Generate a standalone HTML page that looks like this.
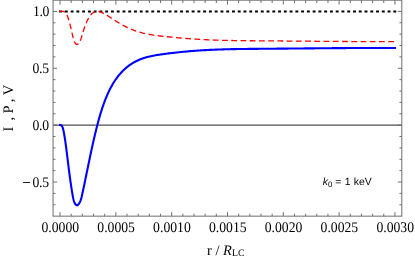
<!DOCTYPE html>
<html><head><meta charset="utf-8"><title>plot</title><style>html,body{margin:0;padding:0;background:#fff;}body{width:415px;height:263px;overflow:hidden;position:relative;font-family:"Liberation Sans",sans-serif;}</style></head><body>
<svg width="415" height="263" viewBox="0 0 415 263" style="position:absolute;left:0;top:0;text-rendering:geometricPrecision;will-change:transform">
<rect width="415" height="263" fill="#fff"/>
<line x1="53.05" y1="125.15" x2="401.8" y2="125.15" stroke="#4e4e4e" stroke-width="1.1"/>
<path d="M60.05 125.02 L61.22 125.27 L61.99 126.12 L62.53 127.21 L62.93 128.35 L63.24 129.52 L63.50 130.71 L63.74 131.90 L63.97 133.10 L64.19 134.29 L64.39 135.47 L64.59 136.66 L64.79 137.85 L64.97 139.04 L65.15 140.23 L65.32 141.42 L65.49 142.60 L65.65 143.79 L65.81 144.98 L65.97 146.17 L66.13 147.36 L66.28 148.55 L66.43 149.74 L66.58 150.93 L66.73 152.13 L66.88 153.32 L67.03 154.52 L67.18 155.71 L67.33 156.91 L67.47 158.10 L67.62 159.30 L67.77 160.50 L67.92 161.69 L68.06 162.89 L68.21 164.09 L68.36 165.29 L68.51 166.49 L68.66 167.69 L68.81 168.88 L68.96 170.08 L69.12 171.28 L69.27 172.48 L69.43 173.67 L69.59 174.87 L69.74 176.07 L69.91 177.26 L70.07 178.46 L70.23 179.65 L70.40 180.84 L70.57 182.04 L70.74 183.23 L70.91 184.42 L71.09 185.61 L71.27 186.80 L71.45 187.99 L71.64 189.17 L71.82 190.36 L72.02 191.54 L72.21 192.73 L72.41 193.91 L72.61 195.09 L72.82 196.26 L73.04 197.44 L73.29 198.62 L73.57 199.79 L73.91 200.97 L74.31 202.14 L74.82 203.29 L75.54 204.36 L76.44 205.17 L77.37 205.31 L78.23 204.66 L78.98 203.65 L79.62 202.57 L80.17 201.47 L80.62 200.34 L81.01 199.20 L81.34 198.04 L81.63 196.88 L81.90 195.70 L82.16 194.53 L82.42 193.35 L82.67 192.17 L82.92 191.00 L83.18 189.82 L83.43 188.64 L83.68 187.46 L83.93 186.29 L84.18 185.11 L84.42 183.93 L84.67 182.75 L84.92 181.57 L85.16 180.39 L85.40 179.21 L85.65 178.03 L85.89 176.85 L86.13 175.67 L86.38 174.49 L86.62 173.32 L86.86 172.14 L87.10 170.96 L87.35 169.78 L87.59 168.60 L87.83 167.42 L88.07 166.24 L88.32 165.06 L88.56 163.88 L88.80 162.70 L89.05 161.52 L89.29 160.34 L89.54 159.16 L89.78 157.98 L90.03 156.80 L90.28 155.62 L90.53 154.45 L90.78 153.27 L91.03 152.09 L91.28 150.91 L91.54 149.74 L91.79 148.56 L92.05 147.38 L92.31 146.21 L92.57 145.03 L92.83 143.86 L93.10 142.68 L93.36 141.51 L93.63 140.33 L93.90 139.16 L94.17 137.99 L94.45 136.81 L94.72 135.64 L95.00 134.47 L95.28 133.30 L95.57 132.13 L95.85 130.96 L96.14 129.79 L96.43 128.62 L96.73 127.46 L97.02 126.29 L97.32 125.12 L97.63 123.96 L97.93 122.79 L98.25 121.63 L98.56 120.47 L98.88 119.30 L99.20 118.14 L99.53 116.99 L99.86 115.83 L100.20 114.67 L100.54 113.52 L100.89 112.37 L101.25 111.22 L101.61 110.07 L101.98 108.92 L102.36 107.78 L102.74 106.64 L103.14 105.50 L103.54 104.36 L103.94 103.23 L104.36 102.10 L104.78 100.97 L105.22 99.85 L105.66 98.73 L106.12 97.61 L106.58 96.50 L107.05 95.38 L107.54 94.28 L108.03 93.18 L108.54 92.08 L109.06 90.99 L109.59 89.91 L110.13 88.83 L110.69 87.76 L111.26 86.70 L111.85 85.64 L112.45 84.60 L113.06 83.56 L113.69 82.54 L114.33 81.52 L114.99 80.52 L115.67 79.53 L116.36 78.54 L117.07 77.58 L117.80 76.62 L118.54 75.68 L119.31 74.75 L120.09 73.84 L120.89 72.94 L121.71 72.06 L122.55 71.19 L123.41 70.35 L124.28 69.52 L125.17 68.71 L126.08 67.91 L127.01 67.14 L127.95 66.39 L128.91 65.66 L129.89 64.96 L130.88 64.27 L131.89 63.61 L132.91 62.98 L133.95 62.37 L135.00 61.78 L136.07 61.23 L137.15 60.70 L138.25 60.20 L139.36 59.72 L140.48 59.27 L141.61 58.84 L142.74 58.44 L143.89 58.06 L145.04 57.70 L146.20 57.36 L147.36 57.04 L148.53 56.74 L149.70 56.45 L150.87 56.19 L152.05 55.94 L153.23 55.70 L154.41 55.47 L155.59 55.26 L156.78 55.06 L157.97 54.87 L159.16 54.69 L160.35 54.51 L161.54 54.34 L162.74 54.18 L163.93 54.02 L165.12 53.87 L166.32 53.71 L167.51 53.56 L168.71 53.41 L169.91 53.27 L171.10 53.12 L172.30 52.98 L173.49 52.84 L174.69 52.71 L175.89 52.57 L177.09 52.44 L178.28 52.31 L179.48 52.18 L180.68 52.06 L181.88 51.94 L183.08 51.82 L184.28 51.70 L185.47 51.59 L186.67 51.48 L187.87 51.37 L189.07 51.27 L190.27 51.16 L191.47 51.07 L192.67 50.97 L193.87 50.88 L195.07 50.78 L196.28 50.70 L197.48 50.61 L198.68 50.53 L199.88 50.45 L201.08 50.37 L202.28 50.30 L203.48 50.23 L204.69 50.16 L205.89 50.09 L207.09 50.03 L208.29 49.97 L209.49 49.91 L210.70 49.85 L211.90 49.80 L213.10 49.74 L214.31 49.69 L215.51 49.64 L216.71 49.60 L217.91 49.55 L219.12 49.51 L220.32 49.47 L221.53 49.43 L222.73 49.39 L223.93 49.36 L225.14 49.32 L226.34 49.29 L227.54 49.26 L228.75 49.23 L229.95 49.20 L231.16 49.17 L232.36 49.15 L233.57 49.13 L234.77 49.10 L235.97 49.08 L237.18 49.06 L238.38 49.04 L239.59 49.02 L240.79 49.00 L242.00 48.99 L243.20 48.97 L244.41 48.96 L245.61 48.94 L246.82 48.93 L248.02 48.92 L249.23 48.90 L250.43 48.89 L251.63 48.88 L252.84 48.87 L254.04 48.86 L255.25 48.85 L256.45 48.84 L257.66 48.83 L258.86 48.82 L260.07 48.81 L261.27 48.80 L262.48 48.79 L263.68 48.78 L264.89 48.77 L266.09 48.76 L267.30 48.75 L268.50 48.75 L269.71 48.74 L270.91 48.73 L272.12 48.72 L273.32 48.71 L274.52 48.70 L275.73 48.68 L276.93 48.67 L278.14 48.66 L279.34 48.65 L280.55 48.64 L281.75 48.63 L282.96 48.62 L284.16 48.61 L285.36 48.60 L286.57 48.59 L287.77 48.58 L288.98 48.57 L290.18 48.56 L291.39 48.54 L292.59 48.53 L293.79 48.52 L295.00 48.51 L296.20 48.50 L297.41 48.49 L298.61 48.48 L299.81 48.46 L301.02 48.45 L302.22 48.44 L303.43 48.43 L304.63 48.42 L305.83 48.41 L307.04 48.40 L308.24 48.39 L309.45 48.37 L310.65 48.36 L311.85 48.35 L313.06 48.34 L314.26 48.33 L315.47 48.32 L316.67 48.31 L317.87 48.30 L319.08 48.29 L320.28 48.28 L321.49 48.27 L322.69 48.26 L323.89 48.25 L325.10 48.23 L326.30 48.22 L327.51 48.21 L328.71 48.20 L329.91 48.19 L331.12 48.18 L332.32 48.17 L333.53 48.17 L334.73 48.16 L335.93 48.15 L337.14 48.14 L338.34 48.13 L339.55 48.12 L340.75 48.11 L341.95 48.10 L343.16 48.09 L344.36 48.09 L345.57 48.08 L346.77 48.07 L347.98 48.06 L349.18 48.05 L350.38 48.05 L351.59 48.04 L352.79 48.03 L354.00 48.03 L355.20 48.02 L356.40 48.01 L357.61 48.01 L358.81 48.00 L360.02 48.00 L361.22 47.99 L362.43 47.99 L363.63 47.98 L364.83 47.98 L366.04 47.97 L367.24 47.97 L368.45 47.96 L369.65 47.96 L370.86 47.96 L372.06 47.95 L373.26 47.95 L374.47 47.95 L375.67 47.95 L376.88 47.94 L378.08 47.94 L379.29 47.94 L380.49 47.94 L381.70 47.94 L382.90 47.94 L384.11 47.94 L385.31 47.94 L386.52 47.94 L387.72 47.94 L388.93 47.94 L390.13 47.94 L391.34 47.94 L392.54 47.95 L393.75 47.95 L394.95 47.95" fill="none" stroke="#0000ff" stroke-width="2.1" stroke-linejoin="round" stroke-linecap="square"/>
<line x1="59.099999999999994" y1="11.400000000000006" x2="396.24000000000007" y2="11.400000000000006" stroke="#000" stroke-width="1.95" stroke-dasharray="2.9 2.863"/>
<path d="M59.15 11.40 L60.05 11.40 L61.22 11.40 L61.99 11.40 L62.53 11.42 L62.93 11.44 L63.24 11.48 L63.50 11.54 L63.74 11.60 L63.97 11.68 L64.19 11.77 L64.39 11.87 L64.59 11.98 L64.79 12.11 L64.97 12.25 L65.15 12.40 L65.32 12.57 L65.49 12.75 L65.65 12.94 L65.81 13.14 L65.97 13.36 L66.13 13.59 L66.28 13.83 L66.43 14.09 L66.58 14.36 L66.73 14.65 L66.88 14.94 L67.03 15.26 L67.18 15.58 L67.33 15.92 L67.47 16.28 L67.62 16.65 L67.77 17.03 L67.92 17.43 L68.06 17.84 L68.21 18.27 L68.36 18.72 L68.51 19.18 L68.66 19.65 L68.81 20.14 L68.96 20.65 L69.12 21.17 L69.27 21.71 L69.43 22.27 L69.59 22.84 L69.74 23.43 L69.91 24.04 L70.07 24.66 L70.23 25.31 L70.40 25.97 L70.57 26.65 L70.74 27.34 L70.91 28.06 L71.09 28.80 L71.27 29.55 L71.45 30.33 L71.64 31.13 L71.82 31.95 L72.02 32.79 L72.21 33.65 L72.41 34.53 L72.61 35.44 L72.82 36.37 L73.04 37.33 L73.29 38.31 L73.57 39.32 L73.91 40.35 L74.31 41.42 L74.82 42.49 L75.54 43.52 L76.44 44.31 L77.37 44.44 L78.23 43.80 L78.98 42.82 L79.62 41.81 L80.17 40.80 L80.62 39.80 L81.01 38.80 L81.34 37.82 L81.63 36.86 L81.90 35.92 L82.16 35.01 L82.42 34.11 L82.67 33.24 L82.92 32.40 L83.18 31.57 L83.43 30.77 L83.68 29.99 L83.93 29.23 L84.18 28.49 L84.42 27.76 L84.67 27.06 L84.92 26.38 L85.16 25.71 L85.40 25.07 L85.65 24.44 L85.89 23.83 L86.13 23.24 L86.38 22.66 L86.62 22.10 L86.86 21.56 L87.10 21.03 L87.35 20.52 L87.59 20.02 L87.83 19.54 L88.07 19.08 L88.32 18.63 L88.56 18.20 L88.80 17.78 L89.05 17.37 L89.29 16.98 L89.54 16.60 L89.78 16.24 L90.03 15.89 L90.28 15.56 L90.53 15.24 L90.78 14.93 L91.03 14.64 L91.28 14.36 L91.54 14.09 L91.79 13.83 L92.05 13.59 L92.31 13.37 L92.57 13.15 L92.83 12.95 L93.10 12.76 L93.36 12.58 L93.63 12.42 L93.90 12.27 L94.17 12.13 L94.45 12.00 L94.72 11.88 L95.00 11.78 L95.28 11.69 L95.57 11.61 L95.85 11.55 L96.14 11.49 L96.43 11.45 L96.73 11.42 L97.02 11.41 L97.32 11.40 L97.63 11.41 L97.93 11.42 L98.25 11.45 L98.56 11.50 L98.88 11.55 L99.20 11.62 L99.53 11.69 L99.86 11.78 L100.20 11.88 L100.54 12.00 L100.89 12.12 L101.25 12.26 L101.61 12.40 L101.98 12.56 L102.36 12.73 L102.74 12.92 L103.14 13.11 L103.54 13.32 L103.94 13.53 L104.36 13.76 L104.78 14.00 L105.22 14.25 L105.66 14.51 L106.12 14.78 L106.58 15.07 L107.05 15.36 L107.54 15.67 L108.03 15.99 L108.54 16.31 L109.06 16.65 L109.59 17.00 L110.13 17.35 L110.69 17.72 L111.26 18.10 L111.85 18.48 L112.45 18.87 L113.06 19.27 L113.69 19.68 L114.33 20.10 L114.99 20.52 L115.67 20.95 L116.36 21.39 L117.07 21.83 L117.80 22.27 L118.54 22.72 L119.31 23.17 L120.09 23.63 L120.89 24.09 L121.71 24.55 L122.55 25.01 L123.41 25.47 L124.28 25.93 L125.17 26.39 L126.08 26.85 L127.01 27.30 L127.95 27.75 L128.91 28.20 L129.89 28.63 L130.88 29.06 L131.89 29.48 L132.91 29.89 L133.95 30.29 L135.00 30.68 L136.07 31.06 L137.15 31.42 L138.25 31.77 L139.36 32.10 L140.48 32.42 L141.61 32.72 L142.74 33.02 L143.89 33.29 L145.04 33.56 L146.20 33.81 L147.36 34.05 L148.53 34.27 L149.70 34.49 L150.87 34.69 L152.05 34.88 L153.23 35.06 L154.41 35.24 L155.59 35.40 L156.78 35.56 L157.97 35.71 L159.16 35.85 L160.35 35.99 L161.54 36.12 L162.74 36.25 L163.93 36.38 L165.12 36.51 L166.32 36.63 L167.51 36.75 L168.71 36.87 L169.91 36.99 L171.10 37.11 L172.30 37.22 L173.49 37.34 L174.69 37.45 L175.89 37.56 L177.09 37.67 L178.28 37.78 L179.48 37.89 L180.68 37.99 L181.88 38.09 L183.08 38.19 L184.28 38.29 L185.47 38.39 L186.67 38.48 L187.87 38.57 L189.07 38.66 L190.27 38.75 L191.47 38.83 L192.67 38.92 L193.87 39.00 L195.07 39.07 L196.28 39.15 L197.48 39.22 L198.68 39.30 L199.88 39.36 L201.08 39.43 L202.28 39.50 L203.48 39.56 L204.69 39.62 L205.89 39.68 L207.09 39.73 L208.29 39.79 L209.49 39.84 L210.70 39.89 L211.90 39.94 L213.10 39.99 L214.31 40.03 L215.51 40.07 L216.71 40.12 L217.91 40.16 L219.12 40.19 L220.32 40.23 L221.53 40.26 L222.73 40.30 L223.93 40.33 L225.14 40.36 L226.34 40.39 L227.54 40.42 L228.75 40.44 L229.95 40.47 L231.16 40.49 L232.36 40.52 L233.57 40.54 L234.77 40.56 L235.97 40.58 L237.18 40.60 L238.38 40.61 L239.59 40.63 L240.79 40.65 L242.00 40.66 L243.20 40.68 L244.41 40.69 L245.61 40.70 L246.82 40.71 L248.02 40.73 L249.23 40.74 L250.43 40.75 L251.63 40.76 L252.84 40.77 L254.04 40.78 L255.25 40.79 L256.45 40.80 L257.66 40.80 L258.86 40.81 L260.07 40.82 L261.27 40.83 L262.48 40.84 L263.68 40.85 L264.89 40.85 L266.09 40.86 L267.30 40.87 L268.50 40.88 L269.71 40.89 L270.91 40.90 L272.12 40.91 L273.32 40.92 L274.52 40.93 L275.73 40.94 L276.93 40.94 L278.14 40.95 L279.34 40.96 L280.55 40.97 L281.75 40.98 L282.96 40.99 L284.16 41.00 L285.36 41.01 L286.57 41.02 L287.77 41.03 L288.98 41.04 L290.18 41.05 L291.39 41.06 L292.59 41.07 L293.79 41.08 L295.00 41.09 L296.20 41.10 L297.41 41.11 L298.61 41.12 L299.81 41.14 L301.02 41.15 L302.22 41.16 L303.43 41.17 L304.63 41.18 L305.83 41.19 L307.04 41.20 L308.24 41.21 L309.45 41.22 L310.65 41.23 L311.85 41.24 L313.06 41.25 L314.26 41.26 L315.47 41.27 L316.67 41.28 L317.87 41.29 L319.08 41.30 L320.28 41.31 L321.49 41.32 L322.69 41.33 L323.89 41.34 L325.10 41.35 L326.30 41.36 L327.51 41.36 L328.71 41.37 L329.91 41.38 L331.12 41.39 L332.32 41.40 L333.53 41.41 L334.73 41.42 L335.93 41.43 L337.14 41.44 L338.34 41.44 L339.55 41.45 L340.75 41.46 L341.95 41.47 L343.16 41.48 L344.36 41.48 L345.57 41.49 L346.77 41.50 L347.98 41.50 L349.18 41.51 L350.38 41.52 L351.59 41.53 L352.79 41.53 L354.00 41.54 L355.20 41.54 L356.40 41.55 L357.61 41.56 L358.81 41.56 L360.02 41.57 L361.22 41.57 L362.43 41.58 L363.63 41.58 L364.83 41.58 L366.04 41.59 L367.24 41.59 L368.45 41.60 L369.65 41.60 L370.86 41.60 L372.06 41.61 L373.26 41.61 L374.47 41.61 L375.67 41.61 L376.88 41.61 L378.08 41.62 L379.29 41.62 L380.49 41.62 L381.70 41.62 L382.90 41.62 L384.11 41.62 L385.31 41.62 L386.52 41.62 L387.72 41.62 L388.93 41.62 L390.13 41.62 L391.34 41.61 L392.54 41.61 L393.75 41.61 L394.95 41.61" fill="none" stroke="#ff0000" stroke-width="1.3" stroke-dasharray="5.8 3.432"/>
<rect x="53.05" y="0.2" width="348.75" height="215.95000000000002" fill="none" stroke="#6e6e6e" stroke-width="1"/>
<path d="M60.05 216.15 v-4.0 M60.05 0.2 v4.4 M71.21 216.15 v-2.4 M71.21 0.2 v2.8 M82.38 216.15 v-2.4 M82.38 0.2 v2.8 M93.54 216.15 v-2.4 M93.54 0.2 v2.8 M104.70 216.15 v-2.4 M104.70 0.2 v2.8 M115.86 216.15 v-4.0 M115.86 0.2 v4.4 M127.03 216.15 v-2.4 M127.03 0.2 v2.8 M138.19 216.15 v-2.4 M138.19 0.2 v2.8 M149.35 216.15 v-2.4 M149.35 0.2 v2.8 M160.52 216.15 v-2.4 M160.52 0.2 v2.8 M171.68 216.15 v-4.0 M171.68 0.2 v4.4 M182.84 216.15 v-2.4 M182.84 0.2 v2.8 M194.01 216.15 v-2.4 M194.01 0.2 v2.8 M205.17 216.15 v-2.4 M205.17 0.2 v2.8 M216.33 216.15 v-2.4 M216.33 0.2 v2.8 M227.50 216.15 v-4.0 M227.50 0.2 v4.4 M238.66 216.15 v-2.4 M238.66 0.2 v2.8 M249.82 216.15 v-2.4 M249.82 0.2 v2.8 M260.98 216.15 v-2.4 M260.98 0.2 v2.8 M272.15 216.15 v-2.4 M272.15 0.2 v2.8 M283.31 216.15 v-4.0 M283.31 0.2 v4.4 M294.47 216.15 v-2.4 M294.47 0.2 v2.8 M305.64 216.15 v-2.4 M305.64 0.2 v2.8 M316.80 216.15 v-2.4 M316.80 0.2 v2.8 M327.96 216.15 v-2.4 M327.96 0.2 v2.8 M339.12 216.15 v-4.0 M339.12 0.2 v4.4 M350.29 216.15 v-2.4 M350.29 0.2 v2.8 M361.45 216.15 v-2.4 M361.45 0.2 v2.8 M372.61 216.15 v-2.4 M372.61 0.2 v2.8 M383.78 216.15 v-2.4 M383.78 0.2 v2.8 M394.94 216.15 v-4.0 M394.94 0.2 v4.4 M53.05 204.78 h2.4 M401.8 204.78 h-2.4 M53.05 193.40 h2.4 M401.8 193.40 h-2.4 M53.05 182.03 h4.0 M401.8 182.03 h-4.0 M53.05 170.65 h2.4 M401.8 170.65 h-2.4 M53.05 159.28 h2.4 M401.8 159.28 h-2.4 M53.05 147.90 h2.4 M401.8 147.90 h-2.4 M53.05 136.53 h2.4 M401.8 136.53 h-2.4 M53.05 125.15 h4.0 M401.8 125.15 h-4.0 M53.05 113.78 h2.4 M401.8 113.78 h-2.4 M53.05 102.40 h2.4 M401.8 102.40 h-2.4 M53.05 91.03 h2.4 M401.8 91.03 h-2.4 M53.05 79.65 h2.4 M401.8 79.65 h-2.4 M53.05 68.28 h4.0 M401.8 68.28 h-4.0 M53.05 56.90 h2.4 M401.8 56.90 h-2.4 M53.05 45.53 h2.4 M401.8 45.53 h-2.4 M53.05 34.15 h2.4 M401.8 34.15 h-2.4 M53.05 22.78 h2.4 M401.8 22.78 h-2.4 M53.05 11.40 h4.0 M401.8 11.40 h-4.0" fill="none" stroke="#6e6e6e" stroke-width="1"/>
<g font-family="Liberation Serif, serif" font-size="13.7" fill="#000">
<text transform="translate(60.30,232.0) scale(1,1.07)" text-anchor="middle">0.0000</text>
<text transform="translate(116.11,232.0) scale(1,1.07)" text-anchor="middle">0.0005</text>
<text transform="translate(171.93,232.0) scale(1,1.07)" text-anchor="middle">0.0010</text>
<text transform="translate(227.75,232.0) scale(1,1.07)" text-anchor="middle">0.0015</text>
<text transform="translate(283.56,232.0) scale(1,1.07)" text-anchor="middle">0.0020</text>
<text transform="translate(339.38,232.0) scale(1,1.07)" text-anchor="middle">0.0025</text>
<text transform="translate(395.19,232.0) scale(1,1.07)" text-anchor="middle">0.0030</text>
<text transform="translate(49.0,16.40) scale(1,1.07)" text-anchor="end" letter-spacing="-0.35">1.0</text>
<text transform="translate(48.65,73.28) scale(1,1.07)" text-anchor="end" letter-spacing="-0.35">0.5</text>
<text transform="translate(48.65,130.15) scale(1,1.07)" text-anchor="end" letter-spacing="-0.35">0.0</text>
<text transform="translate(48.65,187.03) scale(1,1.07)" text-anchor="end" letter-spacing="-0.35">0.5</text><rect x="23.0" y="181.95" width="7.05" height="0.9" fill="#000" stroke="none"/>
</g>
<g font-family="Liberation Serif, serif" font-size="14.5" fill="#000">
<text transform="translate(12.9,129.05) rotate(-90)" text-anchor="middle">I</text>
<text transform="translate(12.9,118.65) rotate(-90)" text-anchor="middle">,</text>
<text transform="translate(12.9,109.5) rotate(-90)" text-anchor="middle">P</text>
<text transform="translate(12.9,100.5) rotate(-90)" text-anchor="middle">,</text>
<text transform="translate(12.9,89.95) rotate(-90)" text-anchor="middle">V</text>
<text x="207" y="254.8">r / <tspan font-style="italic">R</tspan><tspan font-size="9.8" dy="0.8">LC</tspan></text>
</g>
<text x="322.7" y="185.35" font-family="Liberation Sans, sans-serif" font-size="10.4" word-spacing="0.45" fill="#000"><tspan font-style="italic">k</tspan><tspan font-size="7.8" dy="2.0">0</tspan><tspan dy="-2.0" dx="-0.35"> = 1 keV</tspan></text>
</svg>
</body></html>
